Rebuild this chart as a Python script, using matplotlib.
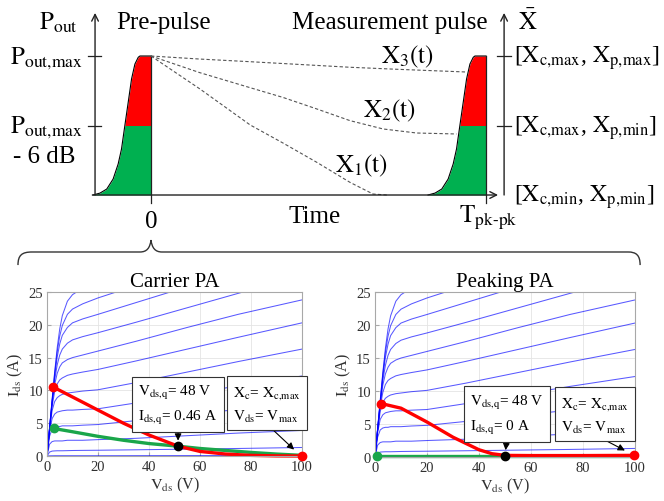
import numpy as np
import matplotlib.pyplot as plt
from matplotlib.path import Path
from matplotlib.patches import PathPatch

plt.rcParams['font.family'] = ['Liberation Serif', 'DejaVu Serif']
plt.rcParams['mathtext.fontset'] = 'stix'

###### Top schematic data (t: time, 0 = end of pre-pulse, 1 = T_pk-pk ; p: normalised power) ######
pulse_dt = [-0.173, -0.152, -0.132, -0.113, -0.098, -0.088, -0.078, -0.068, -0.058, -0.048, -0.038, -0.033, 0.0]
pulse_p = [0.0, 0.014, 0.043, 0.115, 0.223, 0.331, 0.500, 0.667, 0.835, 0.942, 0.991, 1.0, 1.0]
pulse_starts = [0.0, 1.0]

x1_t = [0.0, 0.146, 0.296, 0.394, 0.495, 0.594, 0.639, 0.663, 0.704]
x1_p = [1.0, 0.763, 0.504, 0.374, 0.235, 0.091, 0.036, 0.007, 0.0]
x2_t = [0.0, 0.146, 0.296, 0.394, 0.495, 0.594, 0.693, 0.793, 0.912]
x2_p = [1.0, 0.880, 0.772, 0.702, 0.619, 0.535, 0.475, 0.446, 0.439]
x3_t = [0.0, 0.146, 0.296, 0.594, 0.739, 0.940]
x3_p = [1.0, 0.978, 0.959, 0.919, 0.904, 0.885]

###### I-V data ######
iv_v = [0, 1, 2, 3, 4, 5, 6, 8, 10, 14, 20, 35, 55, 75, 100]
iv_curves = [
    [0, 4.3, 8.6, 12.8, 16.5, 19.4, 21.4, 23.6, 24.6, 25.6, 26.6, 29.0, 32.0, 35.0, 39.0],
    [0, 4.3, 8.5, 12.6, 15.9, 18.3, 19.9, 21.6, 22.4, 23.2, 24.1, 26.0, 28.5, 31.0, 34.0],
    [0, 4.2, 8.3, 12.2, 15.1, 17.1, 18.4, 19.6, 20.3, 20.9, 21.6, 23.4, 25.8, 28.2, 31.0],
    [0, 4.2, 8.2, 11.6, 13.9, 15.4, 16.3, 17.2, 17.7, 18.2, 18.8, 20.4, 22.6, 24.8, 27.5],
    [0, 4.2, 8.0, 10.9, 12.6, 13.6, 14.2, 14.7, 15.0, 15.4, 16.0, 17.5, 19.6, 21.6, 23.8],
    [0, 4.1, 7.6, 9.8, 11.0, 11.6, 11.9, 12.3, 12.5, 12.8, 13.2, 14.5, 16.3, 18.1, 20.3],
    [0, 4.0, 6.9, 8.3, 8.9, 9.2, 9.4, 9.6, 9.7, 9.9, 10.1, 11.2, 12.8, 14.4, 16.3],
    [0, 3.7, 5.7, 6.4, 6.7, 6.8, 6.9, 7.0, 7.0, 7.1, 7.2, 8.1, 9.4, 10.7, 12.2],
    [0, 3.0, 4.1, 4.4, 4.5, 4.5, 4.6, 4.6, 4.6, 4.7, 4.8, 5.4, 6.3, 7.1, 8.0],
    [0, 1.8, 2.2, 2.3, 2.3, 2.3, 2.3, 2.4, 2.4, 2.4, 2.5, 2.7, 3.1, 3.5, 3.9],
    [0, 0.6, 0.75, 0.78, 0.8, 0.8, 0.8, 0.82, 0.84, 0.86, 0.88, 0.95, 1.05, 1.15, 1.3],
    [0, 0.03, 0.04, 0.05, 0.05, 0.05, 0.05, 0.05, 0.05, 0.05, 0.05, 0.06, 0.07, 0.08, 0.1],
]

car_red_v = [2.5, 10, 20, 30, 40, 51.4, 60, 70, 80, 90, 100]
car_red_i = [10.5, 9.0, 7.0, 5.0, 3.2, 1.5, 0.7, 0.3, 0.1, 0.02, 0.0]
car_green_v = [2.6, 10, 20, 30, 40, 51.4, 60, 70, 80, 90, 100]
car_green_i = [4.2, 3.7, 3.0, 2.4, 1.9, 1.5, 1.15, 0.85, 0.55, 0.3, 0.1]
car_red_dots = ([2.5, 100], [10.5, 0.0])
car_green_dot = (2.6, 4.2)
car_q = (51.4, 1.5)

pk_red_v = [2.4, 10, 20, 30, 40, 45, 50, 60, 80, 99.5]
pk_red_i = [8.1, 7.4, 5.3, 3.0, 1.1, 0.5, 0.25, 0.22, 0.22, 0.25]
pk_green_v = [0.8, 100]
pk_green_i = [0.1, 0.1]
pk_red_dots = ([2.4, 99.5], [8.1, 0.25])
pk_green_dot = (0.8, 0.1)
pk_q = (50.0, 0.2)

txt_q_car = r'$\mathrm{V_{ds{,}q}}$= 48 V' + '\n' + r'$\mathrm{I_{ds{,}q}}$= 0.46 A'
txt_q_pk = r'$\mathrm{V_{ds{,}q}}$= 48 V' + '\n' + r'$\mathrm{I_{ds{,}q}}$= 0 A'
txt_max = r'$\mathrm{X_c}$= $\mathrm{X_{c{,}max}}$' + '\n' + r'$\mathrm{V_{ds}}$= $\mathrm{V_{max}}$'

right_labels = [r'[$\mathrm{X_{c{,}max}}$, $\mathrm{X_{p{,}max}}$]',
                r'[$\mathrm{X_{c{,}max}}$, $\mathrm{X_{p{,}min}}$]',
                r'[$\mathrm{X_{c{,}min}}$, $\mathrm{X_{p{,}min}}$]']
right_levels = [1.0, 0.5, 0.0]

RED = '#ff0000'
GREEN = '#00b050'
LGREEN = '#1aa64a'

fig = plt.figure(figsize=(6.64, 5.02), dpi=100)

###### Schematic ######
ax = fig.add_axes([0, 0, 1, 1])
ax.set_xlim(-0.4507, 1.5313)
ax.set_ylim(-2.2014, 1.4101)
ax.axis('off')

k = pulse_p.index(0.5)
for t0 in pulse_starts:
    tt = [t0 + d for d in pulse_dt]
    ax.fill_betweenx(pulse_p[:k + 1], tt[:k + 1], t0, color=GREEN, lw=0)
    ax.fill_betweenx(pulse_p[k:], tt[k:], t0, color=RED, lw=0)
    ax.plot(tt, pulse_p, color='k', lw=0.8)
    ax.plot([t0, t0], [-0.058, 1.0], color='#222222', lw=0.9)

for xt, xp in [(x1_t, x1_p), (x2_t, x2_p), (x3_t, x3_p)]:
    ax.plot(xt, xp, color='#555555', lw=0.8, ls=(0, (3, 2)))

# axes of the schematic
arr = dict(arrowstyle='->', color='#222222', lw=1.0, mutation_scale=12, shrinkA=0, shrinkB=0)
ax.annotate('', xy=(1.036, 0), xytext=(-0.175, 0), arrowprops=arr)
ax.annotate('', xy=(-0.167, 1.31), xytext=(-0.167, 0), arrowprops=arr)
ax.annotate('', xy=(1.054, 1.31), xytext=(1.054, 0), arrowprops=arr)
for lev in [0.5, 1.0]:
    ax.plot([-0.188, -0.149], [lev, lev], color='#222222', lw=0.9)
    ax.plot([1.033, 1.075], [lev, lev], color='#222222', lw=0.9)

fs = 18
ax.text(-0.275, 1.245, r'$\mathrm{P_{out}}$', fontsize=fs, ha='center', va='center')
ax.text(0.036, 1.245, 'Pre-pulse', fontsize=fs, ha='center', va='center')
ax.text(0.713, 1.245, 'Measurement pulse', fontsize=fs, ha='center', va='center')
ax.text(1.125, 1.25, r'$\bar{\mathrm{X}}$', fontsize=fs, ha='center', va='center')
ax.text(-0.42, 0.99, r'$\mathrm{P_{out{,}max}}$', fontsize=fs, ha='left', va='center')
ax.text(-0.42, 0.49, r'$\mathrm{P_{out{,}max}}$', fontsize=fs, ha='left', va='center')
ax.text(-0.413, 0.28, '- 6 dB', fontsize=fs, ha='left', va='center')
for lev, lab in zip(right_levels, right_labels):
    ax.text(1.083, lev - 0.01, lab, fontsize=17, ha='left', va='center')
ax.text(0.0, -0.19, '0', fontsize=fs, ha='center', va='center')
ax.text(1.006, -0.16, r'$\mathrm{T_{pk\text{-}pk}}$', fontsize=fs, ha='center', va='center')
ax.text(0.487, -0.15, 'Time', fontsize=fs, ha='center', va='center')
ax.text(0.764, 1.0, r'$\mathrm{X_3(t)}$', fontsize=fs, ha='center', va='center')
ax.text(0.713, 0.61, r'$\mathrm{X_2(t)}$', fontsize=fs, ha='center', va='center')
ax.text(0.627, 0.22, r'$\mathrm{X_1(t)}$', fontsize=fs, ha='center', va='center')

# brace
brace = [(-0.397, -0.504), (-0.397, -0.432), (-0.385, -0.41), (-0.355, -0.41),
         (-0.033, -0.41),
         (-0.012, -0.41), (-0.003, -0.38), (0.0, -0.324),
         (0.003, -0.38), (0.012, -0.41), (0.033, -0.41),
         (1.424, -0.41),
         (1.448, -0.41), (1.460, -0.432), (1.460, -0.504)]
C = Path.CURVE4
codes = [Path.MOVETO, C, C, C, Path.LINETO, C, C, C, C, C, C, Path.LINETO, C, C, C]
ax.add_patch(PathPatch(Path(brace, codes), fc='none', ec='#333333', lw=1.0))


###### I-V plots ######
def draw_iv(axi, title, red_v, red_i, green_v, green_i, red_dots, green_dot, q, txt_q, box_q, box_max, max_pt):
    for cur in iv_curves:
        axi.plot(iv_v, cur, color='#0000ff', lw=0.75, alpha=0.65)
    axi.plot(green_v, green_i, color=LGREEN, lw=2.4, solid_capstyle='round', clip_on=False)
    axi.plot(red_v, red_i, color=RED, lw=2.4, solid_capstyle='round', clip_on=False)
    axi.plot(*red_dots, 'o', color=RED, ms=6, clip_on=False, zorder=5)
    axi.plot(*green_dot, 'o', color=LGREEN, ms=6, clip_on=False, zorder=5)
    axi.plot(*q, 'o', color='k', ms=6, clip_on=False, zorder=6)
    axi.set_xlim(0, 100)
    axi.set_ylim(0, 25)
    axi.set_xticks(range(0, 101, 20))
    axi.set_yticks(range(0, 26, 5))
    axi.grid(True, color='#e4e4e4', lw=0.6)
    axi.set_axisbelow(True)
    for s in axi.spines.values():
        s.set_color('#a8a8a8')
        s.set_linewidth(0.8)
    axi.tick_params(direction='in', length=3, color='#a8a8a8', labelsize=10.5, labelcolor='#303030', pad=3)
    axi.set_xlabel(r'$\mathrm{V_{ds}}$ (V)', fontsize=11.5, color='#303030', labelpad=1)
    axi.set_ylabel(r'$\mathrm{I_{ds}}$ (A)', fontsize=11.5, color='#303030', labelpad=2)
    axi.set_title(title, fontsize=15, pad=4)
    bb = dict(boxstyle='square,pad=0.4', fc='white', ec='#333333', lw=0.8)
    ap = dict(arrowstyle='-|>', color='k', lw=0.8, relpos=(0.5, 0), shrinkA=0, shrinkB=4, mutation_scale=10)
    axi.annotate(txt_q, xy=q, xytext=box_q, ha='center', va='center', multialignment='left',
                 fontsize=11, linespacing=1.6, bbox=bb, arrowprops=ap, annotation_clip=False, zorder=7)
    axi.annotate(txt_max, xy=max_pt, xytext=box_max, ha='center', va='center', multialignment='left',
                 fontsize=11, linespacing=1.6, bbox=bb, arrowprops=ap, annotation_clip=False, zorder=7)


ax_c = fig.add_axes([0.0708, 0.0896, 0.384, 0.3267])
draw_iv(ax_c, 'Carrier PA', car_red_v, car_red_i, car_green_v, car_green_i, car_red_dots, car_green_dot,
        car_q, txt_q_car, (51.4, 7.9), (86.3, 7.9), (98.5, 0.4))

ax_p = fig.add_axes([0.5648, 0.0876, 0.3916, 0.3287])
draw_iv(ax_p, 'Peaking PA', pk_red_v, pk_red_i, pk_green_v, pk_green_i, pk_red_dots, pk_green_dot,
        pk_q, txt_q_pk, (50.8, 6.5), (84.6, 6.4), (98.0, 0.6))

plt.savefig('out.png', dpi=100)
